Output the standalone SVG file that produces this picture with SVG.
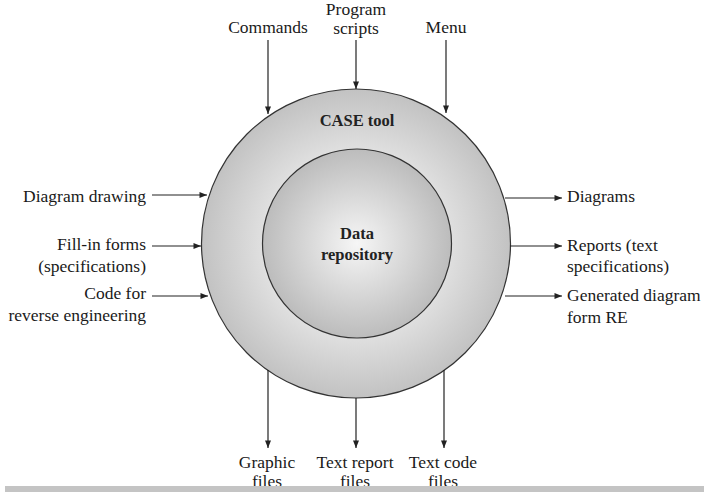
<svg xmlns="http://www.w3.org/2000/svg" width="704" height="492" viewBox="0 0 704 492">
<defs>
<radialGradient id="gOuter" cx="0.5" cy="0.5" r="0.5">
<stop offset="0.6" stop-color="#e0e0e0"/>
<stop offset="1" stop-color="#c2c2c2"/>
</radialGradient>
<radialGradient id="gInner" cx="0.5" cy="0.5" r="0.5">
<stop offset="0" stop-color="#f6f6f6"/>
<stop offset="1" stop-color="#bcbcbc"/>
</radialGradient>
<marker id="ah" viewBox="0 0 10 8" refX="10" refY="4" markerWidth="8" markerHeight="6" markerUnits="userSpaceOnUse" orient="auto">
<path d="M0,0 L10,4 L0,8 Z" fill="#222"/>
</marker>
<style>
.lbl{font-family:'Liberation Serif','DejaVu Serif','Times New Roman',serif;font-size:17.5px;fill:#1a1a1a}
.bold{font-family:'Liberation Serif','DejaVu Serif','Times New Roman',serif;font-size:16.5px;font-weight:bold;fill:#222;text-anchor:middle}
.c{stroke:#222;stroke-width:1.2;fill:none;marker-end:url(#ah)}
</style>
</defs>
<rect width="704" height="492" fill="#ffffff"/>
<g id="case-tool">
<circle cx="356" cy="243.5" r="154.5" fill="url(#gOuter)" stroke="#333" stroke-width="1.2"/>
<text class="bold" x="357" y="126">CASE tool</text>
</g>
<g id="data-repository">
<circle cx="357" cy="243.5" r="94.5" fill="url(#gInner)" stroke="#333" stroke-width="1.2"/>
<text class="bold" x="357" y="239">Data</text>
<text class="bold" x="357" y="260">repository</text>
</g>
<g id="connectors">
<line class="c" x1="268" y1="40" x2="268" y2="114"/>
<line class="c" x1="356" y1="40" x2="356" y2="89"/>
<line class="c" x1="446" y1="40" x2="446" y2="113"/>
<line class="c" x1="152" y1="195" x2="207" y2="195"/>
<line class="c" x1="152" y1="246" x2="201" y2="246"/>
<line class="c" x1="152" y1="296" x2="208" y2="296"/>
<line class="c" x1="505" y1="198" x2="562" y2="198"/>
<line class="c" x1="510" y1="246" x2="562" y2="246"/>
<line class="c" x1="505" y1="296" x2="562" y2="296"/>
<line class="c" x1="268" y1="370" x2="268" y2="448"/>
<line class="c" x1="356" y1="398" x2="356" y2="448"/>
<line class="c" x1="444" y1="370" x2="444" y2="448"/>
</g>
<g id="in-commands"><text class="lbl" x="268" y="33" text-anchor="middle">Commands</text></g>
<g id="in-program-scripts"><text class="lbl" x="356" y="15" text-anchor="middle">Program</text><text class="lbl" x="356" y="33.5" text-anchor="middle">scripts</text></g>
<g id="in-menu"><text class="lbl" x="446" y="33" text-anchor="middle">Menu</text></g>
<g id="in-diagram-drawing"><text class="lbl" x="146" y="202" text-anchor="end">Diagram drawing</text></g>
<g id="in-fill-in-forms"><text class="lbl" x="146" y="250" text-anchor="end">Fill-in forms</text><text class="lbl" x="146" y="272" text-anchor="end">(specifications)</text></g>
<g id="in-code"><text class="lbl" x="146" y="299" text-anchor="end">Code for</text><text class="lbl" x="146" y="321" text-anchor="end">reverse engineering</text></g>
<g id="out-diagrams"><text class="lbl" x="567" y="202">Diagrams</text></g>
<g id="out-reports"><text class="lbl" x="567" y="251">Reports (text</text><text class="lbl" x="567" y="272">specifications)</text></g>
<g id="out-generated"><text class="lbl" x="567" y="301">Generated diagram</text><text class="lbl" x="567" y="323">form RE</text></g>
<g id="out-graphic"><text class="lbl" x="267" y="468" text-anchor="middle">Graphic</text><text class="lbl" x="267" y="487" text-anchor="middle">files</text></g>
<g id="out-text-report"><text class="lbl" x="355" y="468" text-anchor="middle">Text report</text><text class="lbl" x="355" y="487" text-anchor="middle">files</text></g>
<g id="out-text-code"><text class="lbl" x="443" y="468" text-anchor="middle">Text code</text><text class="lbl" x="443" y="487" text-anchor="middle">files</text></g>
<rect x="5" y="486" width="699" height="6" fill="#c4c4c4"/>
</svg>
